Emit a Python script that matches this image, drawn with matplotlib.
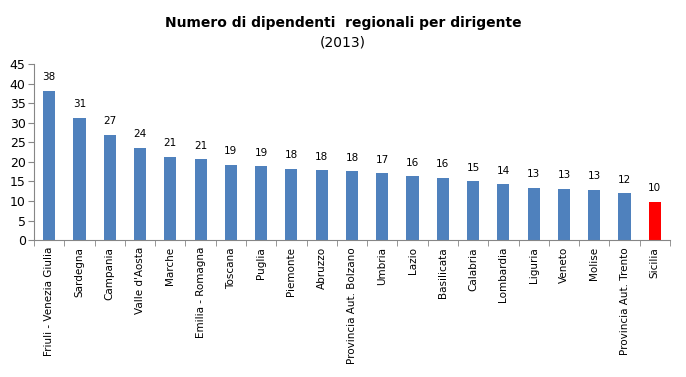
import matplotlib
matplotlib.use('Agg')
import matplotlib.pyplot as plt
import numpy as np

regions = ['Friuli - Venezia Giulia', 'Sardegna', 'Campania', "Valle d'Aosta", 'Marche',
           'Emilia - Romagna', 'Toscana', 'Puglia', 'Piemonte', 'Abruzzo',
           'Provincia Aut. Bolzano', 'Umbria', 'Lazio', 'Basilicata', 'Calabria',
           'Lombardia', 'Liguria', 'Veneto', 'Molise', 'Provincia Aut. Trento', 'Sicilia']
values = [38.1, 31.2, 26.9, 23.6, 21.3, 20.7, 19.2, 18.9, 18.2, 17.9,
          17.6, 17.1, 16.3, 16.0, 15.0, 14.3, 13.4, 13.2, 12.8, 12.0, 9.8]
highlight = 'Sicilia'
y_ticks = [0, 5, 10, 15, 20, 25, 30, 35, 40, 45]

blue = '#4f81bd'
red = '#ff0000'
grey = '#868686'

fig = plt.figure(figsize=(6.86, 3.77), dpi=100)
ax = fig.add_axes([0.0496, 0.363, 0.927, 0.467])

x = np.arange(len(regions))
colors = [red if r == highlight else blue for r in regions]
bars = ax.bar(x, values, width=0.4, color=colors)

for xi, v in zip(x, values):
    ax.text(xi, v + 2.2, f'{v:.0f}', ha='center', va='bottom', fontsize=7.5)

ax.set_xlim(-0.5, len(regions) - 0.5)
ax.set_ylim(0, 45)
ax.set_yticks(y_ticks)
ax.tick_params(axis='y', labelsize=9, length=4, color=grey, pad=2)

ax.set_xticks(x)
ax.set_xticklabels(regions, rotation=90, fontsize=7.5)
ax.tick_params(axis='x', which='major', length=0, pad=5)
ax.set_xticks(np.arange(len(regions) + 1) - 0.5, minor=True)
ax.tick_params(axis='x', which='minor', length=4, color=grey)

for side in ['top', 'right']:
    ax.spines[side].set_visible(False)
for side in ['left', 'bottom']:
    ax.spines[side].set_color(grey)

fig.text(0.5, 0.94, 'Numero di dipendenti  regionali per dirigente', ha='center', va='center',
         fontsize=10, fontweight='bold')
fig.text(0.5, 0.888, '(2013)', ha='center', va='center', fontsize=10)

fig.savefig('out.png', dpi=100)
